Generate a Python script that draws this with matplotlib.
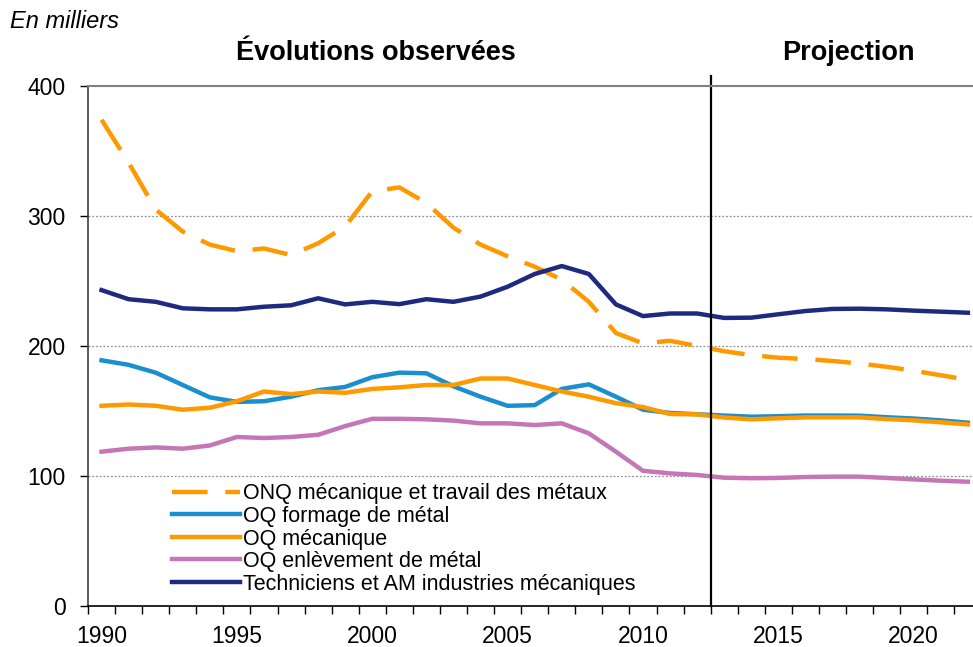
import numpy as np
import matplotlib.pyplot as plt
from matplotlib.lines import Line2D

# données en milliers
annees = list(range(1990, 2023))

onq_meca = [374, 341, 305, 288, 278, 273, 275, 270, 279, 292, 319, 322,
            310, 291, 278, 269, 261, 251, 234, 210, 202, 204, 200,
            196, 193, 191, 190, 188.5, 186.5, 184, 181, 177.5, 174]
oq_formage = [189, 185.5, 179.5, 170, 160.5, 157, 157.5, 161, 166, 168.5, 176, 179.5,
              179, 169, 161, 154, 154.5, 167, 170.5, 161, 151, 148.5, 147.5,
              146.5, 145.6, 146, 146.5, 146.5, 146.4, 145.2, 144.2, 142.8, 141]
oq_meca = [154, 155, 154, 151, 152.5, 157.5, 165, 163, 165, 164, 167, 168.2,
           170, 170, 175, 175, 170, 165, 161, 156, 153, 147.7, 147.4,
           145, 143.6, 144.4, 145.1, 145.1, 145.1, 143.8, 142.8, 141.3, 139.7]
oq_enlevement = [118.7, 121, 122, 121, 123.5, 130, 129.2, 130, 131.7, 138.4, 144, 144,
                 143.6, 142.6, 140.5, 140.5, 139.2, 140.5, 132.8, 118.7, 104, 102, 100.8,
                 98.7, 98.3, 98.5, 99.2, 99.5, 99.5, 98.5, 97.4, 96.4, 95.6]
techniciens = [243, 236, 234, 229, 228.2, 228.2, 230.2, 231.3, 236.7, 232, 234, 232.2,
               236, 234, 238, 245.6, 255.4, 261.5, 255.4, 232, 223, 225, 225,
               221.6, 221.8, 224.4, 226.9, 228.5, 228.7, 228.2, 227.2, 226.4, 225.6]

orange = "#FF9900"
bleu = "#1A8FD0"
rose = "#C476B6"
marine = "#1F2A7F"

plt.rcParams['font.family'] = ['Liberation Sans', 'DejaVu Sans']

fig = plt.figure(figsize=(9.73, 6.47), dpi=100)
ax = fig.add_axes([88 / 973, 1 - 606 / 647, 1 - 88 / 973, 520 / 647])

lw = 3.2
ax.plot(annees, onq_meca, color=orange, lw=lw, dashes=(8, 4))
ax.plot(annees, oq_formage, color=bleu, lw=lw)
ax.plot(annees, oq_meca, color=orange, lw=lw)
ax.plot(annees, oq_enlevement, color=rose, lw=lw)
ax.plot(annees, techniciens, color=marine, lw=lw)

ax.set_xlim(1989.5, 2022.19)
ax.set_ylim(0, 400)

# séparation observé / projection
ax.plot([2012.5, 2012.5], [0, 408], color="black", lw=1.6, clip_on=False)

# grille pointillée
for v in [100, 200, 300]:
    ax.axhline(v, color="#909090", lw=0.9, ls=(0, (1.5, 1.5)), zorder=0)

ax.set_yticks([0, 100, 200, 300, 400])
ax.set_xticks(range(1990, 2023, 5))
ax.set_xticks(np.arange(1989.5, 2022.2, 1), minor=True)
ax.tick_params(axis="x", which="major", length=0, labelsize=16.5, pad=14)
ax.tick_params(axis="x", which="minor", length=6, width=1, direction="out")
ax.tick_params(axis="y", length=6, width=1, labelsize=16.5, pad=10)

ax.spines["right"].set_visible(False)
ax.spines["top"].set_color("#808080")
ax.spines["top"].set_linewidth(1.5)
ax.spines["left"].set_color("#404040")
ax.spines["left"].set_linewidth(1.2)
ax.spines["bottom"].set_linewidth(1.2)

fig.text(10 / 973, 1 - 22 / 647, "En milliers", fontsize=17, style="italic",
         va="center", ha="left")
fig.text(376 / 973, 1 - 53 / 647, "Évolutions observées", fontsize=19.5,
         fontweight="bold", va="center", ha="center")
fig.text(848 / 973, 1 - 53 / 647, "Projection", fontsize=19.5,
         fontweight="bold", va="center", ha="center")

handles = [
    Line2D([], [], color=orange, lw=lw, dashes=(8, 4)),
    Line2D([], [], color=bleu, lw=lw),
    Line2D([], [], color=orange, lw=lw),
    Line2D([], [], color=rose, lw=lw),
    Line2D([], [], color=marine, lw=lw),
]
labels = [
    "ONQ mécanique et travail des métaux",
    "OQ formage de métal",
    "OQ mécanique",
    "OQ enlèvement de métal",
    "Techniciens et AM industries mécaniques",
]
ax.legend(handles, labels, loc="center left",
          bbox_to_anchor=((172 - 88) / 885, (606 - 539) / 520),
          frameon=False, fontsize=15.5, handlelength=3.15, handletextpad=0.15,
          labelspacing=0.07, borderaxespad=0, borderpad=0)

fig.savefig("out.png", dpi=100)
